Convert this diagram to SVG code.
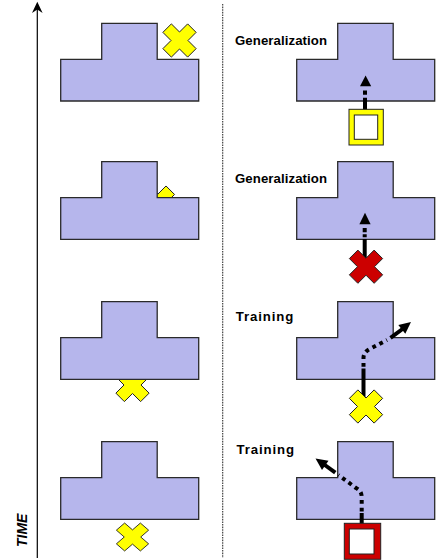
<svg xmlns="http://www.w3.org/2000/svg" xmlns:xlink="http://www.w3.org/1999/xlink" width="443" height="560" viewBox="0 0 443 560">
  <style>
    .plate { fill: #b6b6ec; stroke: #2a2a2a; stroke-width: 1.3; stroke-linejoin: miter; }
    .mark { stroke: #222; stroke-width: 1; stroke-linejoin: round; }
    .yellow { fill: #ffff00; }
    .red { fill: #cc0000; }
    .label { font-family: "Liberation Sans", Arial, sans-serif; font-weight: bold; font-size: 13.2px; fill: #000; }
    .time { font-family: "Liberation Sans", Arial, sans-serif; font-weight: bold; font-style: italic; font-size: 14px; fill: #000; }
    .path-solid { fill: none; stroke: #000; stroke-width: 4; stroke-linecap: butt; }
    .path-dot { fill: none; stroke: #000; stroke-width: 4; stroke-linecap: butt; stroke-dasharray: 3.8 4; }
    .head { fill: #000; }
  </style>
  <defs>
    <!-- T-shaped plate: upper block on a wide base -->
    <path id="plate" d="M0,36 H41 V0 H96.5 V36 H138 V77.7 H0 Z"/>
    <!-- diagonal cross marker centred on the origin -->
    <polygon id="xmark" points="16.62,-8.13 8.49,0 16.62,8.13 8.13,16.62 0,8.49 -8.13,16.62 -16.62,8.13 -8.49,0 -16.62,-8.13 -8.13,-16.62 0,-8.49 8.13,-16.62"/>
  </defs>

  <!-- time axis -->
  <g id="time-axis">
    <line x1="37.3" y1="9" x2="37.3" y2="558" stroke="#000" stroke-width="1.2"/>
    <polygon points="37.3,1.7 42.6,13 37.3,9.5 32,13" fill="#000"/>
    <text class="time" transform="translate(26.7,547) rotate(-90)">TIME</text>
  </g>

  <!-- divider between the two columns -->
  <line id="divider" x1="222.7" y1="4" x2="222.7" y2="558" stroke="#333" stroke-width="1.1" stroke-dasharray="1.6 1"/>

  <!-- left column -->
  <g id="left-1">
    <use xlink:href="#plate" class="plate" transform="translate(60.7,23.3)"/>
    <use xlink:href="#xmark" class="mark yellow" transform="translate(179.5,40.5)"/>
  </g>
  <g id="left-2">
    <use xlink:href="#xmark" class="mark yellow" transform="translate(157.9,202.6)"/>
    <use xlink:href="#plate" class="plate" transform="translate(60.7,161.7)"/>
  </g>
  <g id="left-3">
    <use xlink:href="#xmark" class="mark yellow" transform="translate(132.5,385)"/>
    <use xlink:href="#plate" class="plate" transform="translate(60.7,301.7)"/>
  </g>
  <g id="left-4">
    <use xlink:href="#plate" class="plate" transform="translate(60.7,441.7)"/>
    <use xlink:href="#xmark" class="mark yellow" transform="translate(132.5,537) scale(0.97,0.84)"/>
  </g>

  <!-- right column plates and labels -->
  <g id="right-1">
    <use xlink:href="#plate" class="plate" transform="translate(296.7,23.3)"/>
    <text class="label" x="235" y="45.3" textLength="92" lengthAdjust="spacing">Generalization</text>
  </g>
  <g id="right-2">
    <use xlink:href="#plate" class="plate" transform="translate(296.7,161.7)"/>
    <text class="label" x="235" y="183.3" textLength="92" lengthAdjust="spacing">Generalization</text>
  </g>
  <g id="right-3">
    <use xlink:href="#plate" class="plate" transform="translate(296.7,301.7)"/>
    <text class="label" x="235.7" y="321" textLength="57.5" lengthAdjust="spacing">Training</text>
  </g>
  <g id="right-4">
    <use xlink:href="#plate" class="plate" transform="translate(296.7,441.7)"/>
    <text class="label" x="236.5" y="454.3" textLength="57.5" lengthAdjust="spacing">Training</text>
  </g>

  <!-- movement paths -->
  <g id="connectors">
    <!-- row 1: straight up into the plate -->
    <path class="path-solid" d="M365,110 V97.7 M365,94.7 V90.5"/>
    <polygon class="head" points="365.6,75.5 360,86.3 371.2,86.3"/>
    <!-- row 2: straight up into the plate -->
    <path class="path-solid" d="M364.7,262 V239 M364.7,237.3 V234.3 M364.7,232.3 V228"/>
    <polygon class="head" points="365,212.8 359.4,224.2 370.6,224.2"/>
    <!-- row 3: up, then veering right out of the plate -->
    <path class="path-solid" d="M363.5,398 V368.5"/>
    <path class="path-dot" d="M363.5,366.8 V358 Q363.5,352 370,348.8 L387,340"/>
    <path class="path-solid" d="M390.5,337.8 L402.5,329"/>
    <polygon class="head" points="411,322 405.3,333.8 398.3,325"/>
    <!-- row 4: up, then veering left out of the plate -->
    <path class="path-solid" d="M361.7,541 V513"/>
    <path class="path-dot" d="M361.7,511.6 V497 Q361.7,491 356,488 L338.5,475"/>
    <path class="path-solid" d="M335.3,472.6 L324.8,465"/>
    <polygon class="head" points="315.5,458.5 328.5,460.8 322,470"/>
  </g>

  <!-- right column markers -->
  <g id="marker-1">
    <rect x="349" y="109.3" width="34.3" height="35.7" fill="#ffff00" stroke="#222" stroke-width="1"/>
    <rect x="354.3" y="115" width="23.4" height="24.3" fill="#ffffff" stroke="#222" stroke-width="1"/>
  </g>
  <g id="marker-2">
    <use xlink:href="#xmark" class="mark red" transform="translate(366,266.7)"/>
  </g>
  <g id="marker-3">
    <use xlink:href="#xmark" class="mark yellow" transform="translate(366,406.5)"/>
  </g>
  <g id="marker-4">
    <rect x="344.3" y="523.3" width="36.4" height="36" fill="#cc0000" stroke="#222" stroke-width="1"/>
    <rect x="349.3" y="529" width="24.7" height="25" fill="#ffffff" stroke="#222" stroke-width="1"/>
  </g>
</svg>
